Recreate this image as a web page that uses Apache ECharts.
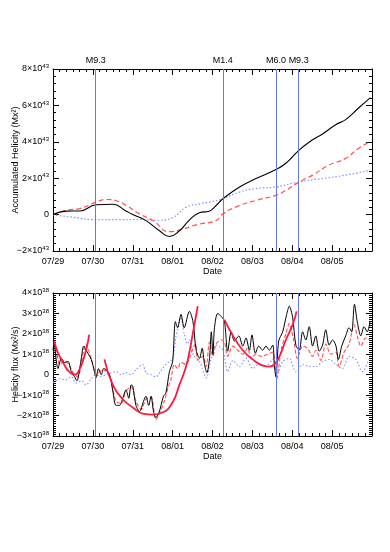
<!DOCTYPE html>
<html>
<head>
<meta charset="utf-8">
<script src="https://cdn.jsdelivr.net/npm/echarts@6/dist/echarts.min.js"></script>
<style>
html, body { margin: 0; background: #fff; }
#chart { width: 390px; height: 552px; }
</style>
</head>
<body>
<div id="chart"></div>
<script>
// x = days since 07/29 00:00
var dateLabels = ['07/29', '07/30', '07/31', '08/01', '08/02', '08/03', '08/04', '08/05'];
var flareDays = [1.075, 4.26, 5.59, 6.16];
var flareNames = ['M9.3', 'M1.4', 'M6.0', 'M9.3'];

// top panel: accumulated helicity (10^43 Mx^2)
var accBlackDays = [0, 0.33, 0.67, 1.08, 1.5, 1.83, 2.0, 2.33, 2.67, 2.92, 3.17, 3.42, 3.67, 3.93, 4.09, 4.26, 4.68, 5.09, 5.59, 5.84, 6.18, 6.51, 6.76, 7.09, 7.34, 7.67, 7.96];
var accBlack = [0, 0.19, 0.2, 0.54, 0.57, 0.2, 0, -0.33, -0.89, -1.2, -0.89, -0.3, 0.1, 0.2, 0.5, 0.87, 1.52, 1.98, 2.48, 2.82, 3.56, 4.11, 4.43, 4.94, 5.22, 5.87, 6.43];
var accRedDays = [0, 0.33, 0.67, 1.08, 1.34, 1.59, 1.84, 2.17, 2.51, 2.92, 3.26, 3.51, 3.68, 4.09, 4.26, 4.68, 5.09, 5.59, 5.84, 6.18, 6.51, 6.92, 7.34, 7.67, 7.96];
var accRed = [0, 0.24, 0.33, 0.69, 0.83, 0.76, 0.5, 0.04, -0.33, -0.94, -0.8, -0.61, -0.52, -0.33, 0.04, 0.5, 0.78, 1.06, 1.33, 1.8, 2.17, 2.72, 3.09, 3.65, 4.02];
var accBlueDays = [0, 0.51, 1.09, 1.59, 2.17, 2.67, 3.01, 3.34, 3.68, 3.93, 4.26, 4.68, 5.09, 5.59, 6.18, 6.76, 7.34, 7.96];
var accBlue = [0, -0.15, -0.28, -0.28, -0.28, -0.31, -0.15, 0.4, 0.59, 0.69, 0.87, 1.24, 1.43, 1.52, 1.8, 1.98, 2.17, 2.44];

// bottom panel: helicity flux (10^38 Mx^2/s)
var fluxBlackDays = [0, 0.025, 0.125, 0.21, 0.29, 0.375, 0.46, 0.54, 0.6, 0.67, 0.71, 0.77, 0.83, 0.875, 0.96, 1.04, 1.08, 1.14, 1.21, 1.27, 1.33, 1.42, 1.5, 1.58, 1.67, 1.75, 1.83, 1.9, 1.96, 2.0, 2.08, 2.17, 2.27, 2.33, 2.4, 2.46, 2.52, 2.58, 2.65, 2.71, 2.77, 2.83, 2.92, 3.0, 3.07, 3.125, 3.21, 3.29, 3.42, 3.51, 3.59, 3.675, 3.74, 3.8, 3.86, 3.925, 3.97, 4.01, 4.05, 4.13, 4.22, 4.3, 4.38, 4.47, 4.55, 4.66, 4.76, 4.84, 4.925, 4.99, 5.075, 5.16, 5.26, 5.34, 5.425, 5.51, 5.55, 5.59, 5.66, 5.76, 5.86, 5.925, 6.01, 6.09, 6.175, 6.26, 6.34, 6.425, 6.51, 6.59, 6.675, 6.76, 6.84, 6.925, 7.01, 7.09, 7.16, 7.24, 7.34, 7.425, 7.49, 7.56, 7.63, 7.72, 7.8, 7.88, 7.95];
var fluxBlack = [1.2, 1.5, 0.3, 0.8, 0.6, 0.65, 0.15, -0.1, -0.3, 0.3, 0.8, 1.4, 1.2, 1.05, 0.75, 0.15, -0.15, 0.3, 0.0, 0.3, 0.25, 0.0, -0.8, -1.5, -1.5, -1.15, -0.75, -1.15, -0.5, -0.55, -1.5, -1.8, -1.3, -1.05, -1.5, -1.05, -1.8, -2.1, -1.9, -1.5, -1.05, -0.9, 0.15, 0.65, 2.6, 2.3, 2.95, 2.3, 3.1, 2.6, 1.2, 0.8, 1.3, 0.5, 0.1, 0.8, 2.1, 1.0, 2.3, 3.0, 2.85, 2.6, 1.15, 2.1, 1.65, 1.9, 1.4, 1.8, 1.2, 1.95, 1.05, 1.4, 1.2, 1.4, 1.2, 1.45, 0.5, -0.1, 1.65, 2.1, 2.95, 3.35, 2.8, 1.45, 1.2, 2.1, 1.7, 2.35, 1.4, 1.9, 1.15, 1.45, 2.2, 1.45, 1.7, 1.45, 0.75, 1.4, 1.9, 2.3, 2.1, 3.45, 2.6, 1.9, 2.35, 2.1, 2.6];
var fluxRedDays = [0, 0.07, 0.17, 0.29, 0.42, 0.54, 0.62, 0.75, 0.82, 0.875, 1.0, 1.08, 1.21, 1.33, 1.46, 1.58, 1.71, 1.83, 1.96, 2.08, 2.21, 2.33, 2.46, 2.58, 2.67, 2.79, 2.875, 2.96, 3.04, 3.125, 3.21, 3.33, 3.46, 3.51, 3.58, 3.63, 3.76, 3.84, 3.925, 4.01, 4.09, 4.22, 4.3, 4.38, 4.51, 4.63, 4.76, 4.88, 4.97, 5.09, 5.22, 5.38, 5.51, 5.575, 5.61, 5.72, 5.84, 5.925, 6.025, 6.13, 6.26, 6.38, 6.51, 6.59, 6.72, 6.84, 6.97, 7.09, 7.175, 7.3, 7.425, 7.55, 7.63, 7.72, 7.84, 7.95];
var fluxRed = [1.5, 1.4, 0.5, 0.7, 0.4, 0.0, -0.1, 1.0, 1.5, 1.3, 0.5, 0.0, 0.2, 0.2, -0.3, -1.3, -1.4, -0.8, -0.6, -1.3, -1.7, -1.2, -1.1, -2.2, -1.9, -1.3, -0.7, -0.2, 0.5, 0.3, 0.6, 0.5, 1.0, 1.3, 1.5, 0.7, 0.9, 0.4, 1.6, 0.9, 1.5, 1.7, 1.6, 0.9, 1.4, 1.2, 1.0, 1.3, 0.8, 1.0, 0.9, 1.0, 1.1, 0.3, -0.2, 1.2, 2.0, 2.5, 1.8, 0.8, 1.4, 1.3, 0.9, 1.2, 0.7, 1.5, 1.0, 1.1, 0.4, 1.1, 1.5, 2.45, 1.9, 1.4, 1.8, 1.7];
var fluxBlueDays = [0, 0.17, 0.33, 0.46, 0.58, 0.71, 0.83, 0.96, 1.08, 1.21, 1.33, 1.46, 1.58, 1.71, 1.83, 1.96, 2.08, 2.25, 2.33, 2.46, 2.58, 2.71, 2.83, 3.0, 3.08, 3.21, 3.29, 3.375, 3.425, 3.51, 3.675, 3.84, 3.97, 4.09, 4.26, 4.38, 4.51, 4.675, 4.84, 5.01, 5.175, 5.34, 5.51, 5.63, 5.76, 5.925, 6.09, 6.26, 6.425, 6.59, 6.76, 6.925, 7.09, 7.26, 7.425, 7.59, 7.76, 7.925];
var fluxBlue = [-0.4, -0.2, -0.25, -0.1, -0.4, -0.3, -0.5, -0.2, 0.0, -0.1, 0.0, 0.1, 0.15, 0.0, 0.1, 0.0, 0.25, 0.5, 0.1, 0.0, -0.1, 0.2, 0.5, 0.8, 1.8, 2.8, 2.0, 1.5, 1.7, 1.0, 0.65, -0.15, 0.8, 1.45, 1.2, 0.15, 0.7, 0.4, 0.8, 0.3, 0.55, 0.4, 0.75, 0.1, 0.65, 0.8, 0.15, 0.5, 0.4, 0.4, 0.65, 0.75, 0.5, 0.3, 0.9, 0.75, 0.15, 0.75];

// fitted curves
var fit1Days = [0.03, 0.12, 0.26, 0.4, 0.55, 0.66, 0.76, 0.84, 0.91];
var fit1 = [1.64, 1.1, 0.57, 0.15, 0.0, 0.25, 0.74, 1.3, 1.96];
var fit2Days = [1.29, 1.5, 1.75, 2.0, 2.25, 2.5, 2.75, 3.0, 3.17, 3.33, 3.42, 3.5, 3.63];
var fit2 = [0.75, -0.5, -1.2, -1.6, -1.9, -1.95, -1.85, -1.35, -0.5, 0.35, 1.1, 1.95, 3.35];
var fit3Days = [4.3, 4.5, 4.76, 5.01, 5.26, 5.43, 5.55, 5.68, 5.84, 6.01, 6.11];
var fit3 = [2.7, 1.95, 1.2, 0.75, 0.45, 0.4, 0.5, 0.9, 1.7, 2.45, 3.1];

function pairs(xs, ys) {
    return xs.map(function (x, i) { return [x, ys[i]]; });
}

var font = 'Liberation Sans';
var txt = { fontFamily: font, fontSize: 9, color: '#000' };

function sciLabel(exp) {
    return {
        fontFamily: font, fontSize: 9, color: '#000', margin: 4,
        formatter: function (v) {
            if (v === 0) return '0';
            return (v < 0 ? '\u2212' : '') + Math.abs(v) + '\u00d710{s|' + exp + '}';
        },
        rich: { s: { fontFamily: font, fontSize: 6, verticalAlign: 'top', padding: [0, 0, 5, 0] } }
    };
}

function xAxes(gi) {
    return [
        {
            type: 'value', gridIndex: gi, min: 0, max: 8, interval: 1,
            name: 'Date', nameLocation: 'middle', nameGap: 16, nameMoveOverlap: false, nameTextStyle: txt,
            axisLine: { onZero: false, lineStyle: { color: '#000', width: 1 } },
            axisTick: { inside: true, length: 6, lineStyle: { color: '#000' } },
            minorTick: { show: true, splitNumber: 6, length: 3, lineStyle: { color: '#000' } },
            axisLabel: Object.assign({ margin: 6, formatter: function (v) { return dateLabels[v] || ''; } }, txt),
            splitLine: { show: false }
        },
        {
            type: 'value', gridIndex: gi, position: 'top', min: 0, max: 8, interval: 1,
            axisLine: { onZero: false, lineStyle: { color: '#000', width: 1 } },
            axisTick: { inside: true, length: 6, lineStyle: { color: '#000' } },
            minorTick: { show: true, splitNumber: 6, length: 3, lineStyle: { color: '#000' } },
            axisLabel: { show: false },
            splitLine: { show: false }
        }
    ];
}

function yAxes(gi, min, max, interval, minorSplit, name, exp) {
    return [
        {
            type: 'value', gridIndex: gi, min: min, max: max, interval: interval,
            name: name, nameLocation: 'middle', nameGap: 33, nameRotate: 90, nameMoveOverlap: false, nameTextStyle: txt,
            axisLine: { show: true, onZero: false, lineStyle: { color: '#000', width: 1 } },
            axisTick: { show: true, inside: true, length: 6, lineStyle: { color: '#000' } },
            minorTick: { show: true, splitNumber: minorSplit, length: 3, lineStyle: { color: '#000' } },
            axisLabel: sciLabel(exp),
            splitLine: { show: false }
        },
        {
            type: 'value', gridIndex: gi, position: 'right', min: min, max: max, interval: interval,
            axisLine: { show: true, onZero: false, lineStyle: { color: '#000', width: 1 } },
            axisTick: { show: true, inside: true, length: 6, lineStyle: { color: '#000' } },
            minorTick: { show: true, splitNumber: minorSplit, length: 3, lineStyle: { color: '#000' } },
            axisLabel: { show: false },
            splitLine: { show: false }
        }
    ];
}

function flareLines(withLabels) {
    return {
        silent: true,
        symbol: 'none',
        animation: false,
        lineStyle: { color: '#6677ee', width: 1, type: 'solid' },
        label: {
            show: withLabels, position: 'end', distance: 4,
            fontFamily: font, fontSize: 9, color: '#000',
            formatter: function (p) { return p.name; }
        },
        data: flareDays.map(function (d, i) { return { name: flareNames[i], xAxis: d }; })
    };
}

function line(name, xi, yi, data, color, type, width, smooth, extra) {
    return Object.assign({
        name: name, type: 'line', xAxisIndex: xi, yAxisIndex: yi,
        data: data, showSymbol: false, smooth: smooth, animation: false,
        lineStyle: { color: color, width: width, type: type }
    }, extra || {});
}

var chart = echarts.init(document.getElementById('chart'));

var option = {
    backgroundColor: '#fff',
    grid: [
        { left: 53, right: 18, top: 69, height: 182, outerBoundsMode: 'none' },
        { left: 53, right: 18, top: 293, height: 143, outerBoundsMode: 'none' }
    ],
    xAxis: xAxes(0).concat(xAxes(1)),
    yAxis: yAxes(0, -2, 8, 2, 5, 'Accumulated Helicity (Mx\u00b2)', '43')
        .concat(yAxes(1, -3, 4, 1, 10, 'Helicity flux (Mx\u00b2/s)', '38')),
    series: [
        line('accBlue', 0, 0, pairs(accBlueDays, accBlue), '#8090ff', [1.5, 2], 1.2, true),
        line('accRed', 0, 0, pairs(accRedDays, accRed), '#ff5050', [5, 3], 1.2, true),
        line('accBlack', 0, 0, pairs(accBlackDays, accBlack), '#000', 'solid', 1.1, true,
            { markLine: flareLines(true) }),

        line('fluxBlue', 2, 2, pairs(fluxBlueDays, fluxBlue), '#8090ff', [1.5, 2], 1.1, 0.3),
        line('fluxRed', 2, 2, pairs(fluxRedDays, fluxRed), '#ff5050', [4, 2], 1.1, 0.3),
        line('fluxBlack', 2, 2, pairs(fluxBlackDays, fluxBlack), '#000', 'solid', 1, 0.3,
            { markLine: flareLines(false) }),
        line('fit1', 2, 2, pairs(fit1Days, fit1), '#ff1a40', 'solid', 1.8, true),
        line('fit2', 2, 2, pairs(fit2Days, fit2), '#ff1a40', 'solid', 1.8, true),
        line('fit3', 2, 2, pairs(fit3Days, fit3), '#ff1a40', 'solid', 1.8, true)
    ]
};

chart.setOption(option);
</script>
</body>
</html>
